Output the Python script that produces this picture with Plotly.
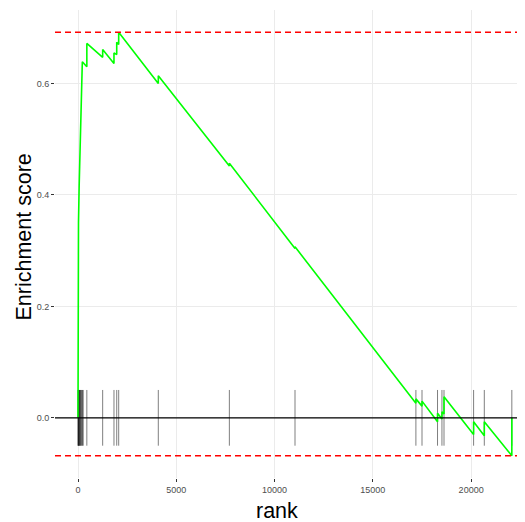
import plotly.graph_objects as go

# Running enrichment score vertices (rank, ES)
es_rank = [0, 0, 5, 10, 15, 25, 60, 100, 130, 170, 220, 450, 450, 1255, 1255,
           1830, 1830, 1970, 1970, 2070, 2070, 4085, 4085, 7700, 7700,
           11040, 11040, 17190, 17190, 17500, 17500, 18290, 18290,
           18515, 18515, 18620, 18620, 20125, 20125, 20670, 20670, 22070, 22070]
es_value = [0.0, 0.047, 0.136, 0.206, 0.269, 0.350, 0.418, 0.481, 0.535, 0.590, 0.639, 0.630, 0.672, 0.647, 0.661,
            0.636, 0.655, 0.652, 0.674, 0.670, 0.692, 0.600, 0.614, 0.452, 0.457,
            0.304, 0.307, 0.026, 0.034, 0.021, 0.030, -0.007, 0.008,
            -0.002, 0.011, 0.007, 0.038, -0.030, -0.007, -0.032, -0.007, -0.068, 0.0]

# Gene-set hit positions (ranks)
hit_ranks = [0, 12, 25, 40, 60, 80, 100, 130, 160, 190, 230, 265, 450, 1255, 1830,
             1970, 2070, 4085, 7700, 11040, 17190, 17500, 18290, 18515, 18620,
             20125, 20670, 22070]

es_max = 0.692
es_min = -0.068
tick_half = 0.05

x_tickvals = [0, 5000, 10000, 15000, 20000]
x_ticktext = ["0", "5000", "10000", "15000", "20000"]
y_tickvals = [0.0, 0.2, 0.4, 0.6]
y_ticktext = ["0.0", "0.2", "0.4", "0.6"]

fig = go.Figure()

# hit ticks
hx, hy = [], []
for r in hit_ranks:
    hx += [r, r, None]
    hy += [-tick_half, tick_half, None]
fig.add_trace(go.Scatter(x=hx, y=hy, mode="lines",
                         line=dict(color="rgba(0,0,0,0.5)", width=1),
                         hoverinfo="skip", showlegend=False))

# zero line
fig.add_hline(y=0, line=dict(color="black", width=1.3))

# ES curve
fig.add_trace(go.Scatter(x=es_rank, y=es_value, mode="lines",
                         line=dict(color="#00ff00", width=1.6),
                         showlegend=False))

# max / min dashed lines
fig.add_hline(y=es_max, line=dict(color="red", width=1.4, dash="6px,4px"))
fig.add_hline(y=es_min, line=dict(color="red", width=1.4, dash="6px,4px"))

# page body has an 8px margin, so the figure is shrunk and shifted by 8px
fig.update_layout(
    width=517, height=514,
    margin=dict(l=47, r=0, t=2, b=44),
    paper_bgcolor="white", plot_bgcolor="white",
    font=dict(family="Liberation Sans, Arial, sans-serif"),
    xaxis=dict(range=[-1170, 22740], tickvals=x_tickvals, ticktext=x_ticktext,
               showgrid=True, gridcolor="#ebebeb", gridwidth=1,
               zeroline=False, showline=False,
               ticks="outside", ticklen=3, tickcolor="#333333", tickwidth=1,
               tickfont=dict(size=9, color="#4d4d4d")),
    yaxis=dict(range=[-0.108, 0.732], tickvals=y_tickvals, ticktext=y_ticktext,
               showgrid=True, gridcolor="#ebebeb", gridwidth=1,
               zeroline=False, showline=False,
               ticks="outside", ticklen=3, tickcolor="#333333", tickwidth=1,
               tickfont=dict(size=9, color="#4d4d4d")),
    annotations=[
        dict(text="rank", xref="paper", yref="paper", x=0.472, y=-0.0705,
             xanchor="center", yanchor="middle", showarrow=False,
             font=dict(size=21.5, color="black")),
        dict(text="Enrichment score", xref="paper", yref="paper", x=-0.066, y=0.516,
             xanchor="center", yanchor="middle", showarrow=False, textangle=-90,
             font=dict(size=21.5, color="black")),
    ],
)

fig.write_html("out.html")
